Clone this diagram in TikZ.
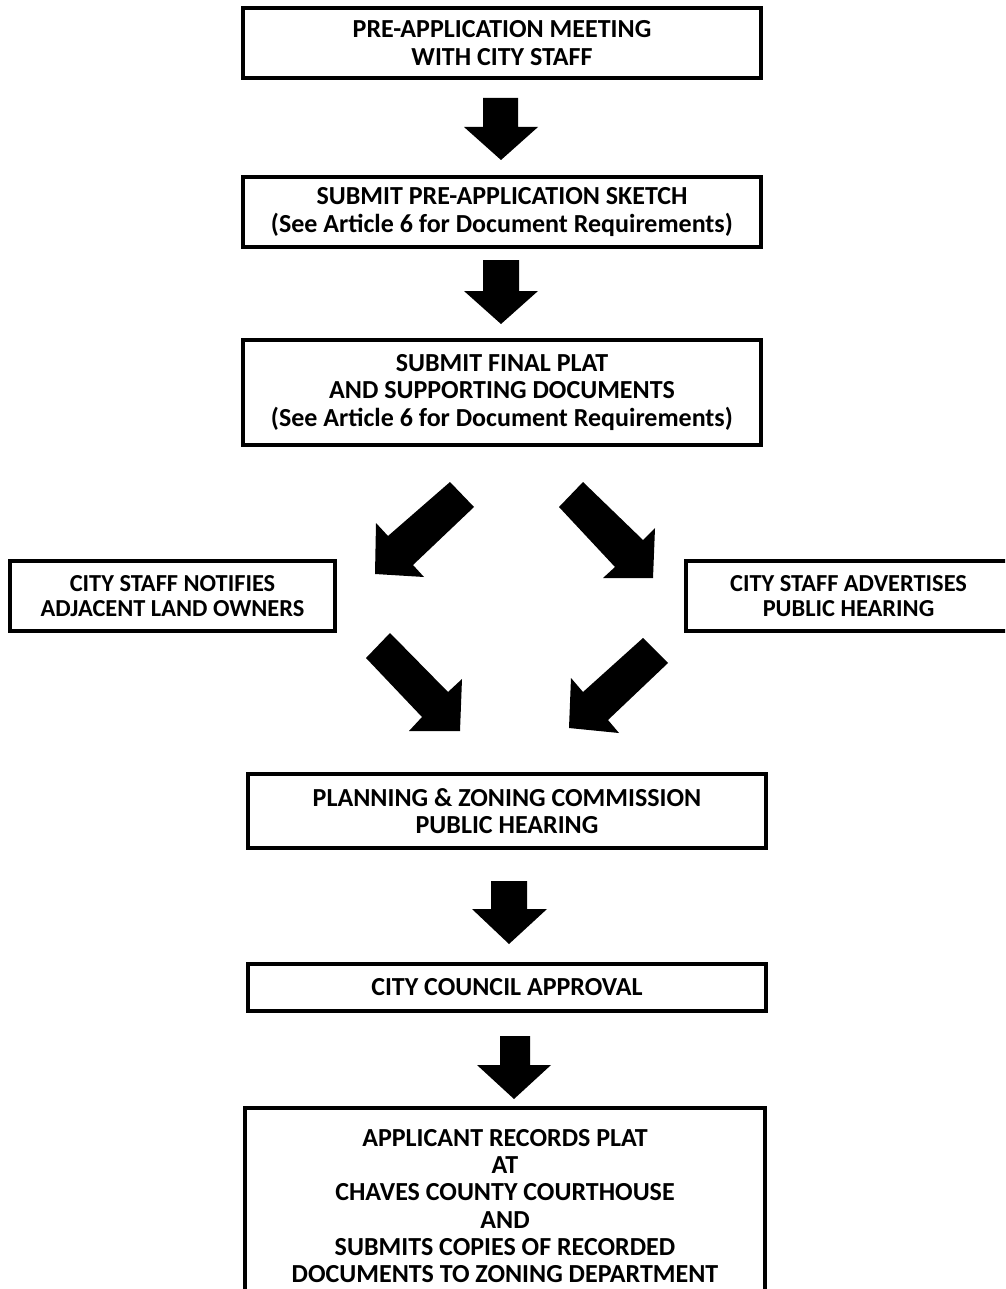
\documentclass[tikz,border=0pt]{standalone}
\usepackage{fontspec}
\setmainfont{Carlito}
\begin{document}
\begin{tikzpicture}[x=1pt,y=-1pt,
  box/.style={draw=black, line width=3.5pt, fill=white, align=center, inner sep=0pt,
    font=\fontsize{26}{27.3}\selectfont\bfseries},
  sidebox/.style={box, font=\fontsize{24.4}{25}\selectfont\bfseries},
  blockarrow/.style={fill=black}]
\clip (0,0) rectangle (1005,1289);
\fill[white] (0,0) rectangle (1005,1289);

% boxes
\node[box, minimum width=518pt, minimum height=70pt] (b1) at (502,43)
  {PRE-APPLICATION MEETING\\WITH CITY STAFF};
\node[box, minimum width=518pt, minimum height=70pt] (b2) at (502,212)
  {SUBMIT PRE-APPLICATION SKETCH\\(See Article 6 for Document Requirements)};
\node[box, minimum width=518pt, minimum height=105pt] (b3) at (502,392.5)
  {SUBMIT FINAL PLAT\\AND SUPPORTING DOCUMENTS\\(See Article 6 for Document Requirements)};
\node[sidebox, minimum width=325pt, minimum height=70pt] (bl) at (172.5,596)
  {CITY STAFF NOTIFIES\\ADJACENT LAND OWNERS};
\node[sidebox, minimum width=325pt, minimum height=70pt] (br) at (848.5,596)
  {CITY STAFF ADVERTISES\\PUBLIC HEARING};
\node[box, minimum width=518pt, minimum height=74pt] (pz) at (507,811)
  {PLANNING \& ZONING COMMISSION\\PUBLIC HEARING};
\node[box, minimum width=518pt, minimum height=47pt] (cc) at (507,987.5)
  {CITY COUNCIL APPROVAL};
\node[box, minimum width=520pt, minimum height=196pt] (fin) at (505,1206)
  {APPLICANT RECORDS PLAT\\AT\\CHAVES COUNTY COURTHOUSE\\AND\\SUBMITS COPIES OF RECORDED\\DOCUMENTS TO ZONING DEPARTMENT};

% straight block arrows
\fill[blockarrow] (483,98) -- (518,98) -- (518,127) -- (538,127) -- (501,160) -- (464,127) -- (483,127) -- cycle;
\fill[blockarrow] (483,260) -- (519,260) -- (519,291) -- (538,291) -- (501,324) -- (464,291) -- (483,291) -- cycle;
\fill[blockarrow] (491,881) -- (527,881) -- (527,909) -- (547,909) -- (509,944) -- (472,909) -- (491,909) -- cycle;
\fill[blockarrow] (500,1036) -- (530,1036) -- (530,1065) -- (551,1065) -- (514,1099) -- (477,1065) -- (500,1065) -- cycle;

% diagonal block arrows
\fill[blockarrow] (450,482) -- (474,507) -- (413,565) -- (424,577) -- (375,574) -- (376,523) -- (388,536) -- cycle;
\fill[blockarrow] (583,482) -- (559,507) -- (615,567) -- (603,578) -- (653,578) -- (655,528) -- (643,540) -- cycle;
\fill[blockarrow] (390,633) -- (366,658) -- (422,717) -- (409,731) -- (460,731) -- (462,679) -- (448,692) -- cycle;
\fill[blockarrow] (643,638) -- (668,663) -- (608,720) -- (619,733) -- (569,728) -- (571,678) -- (583,692) -- cycle;
\end{tikzpicture}
\end{document}
